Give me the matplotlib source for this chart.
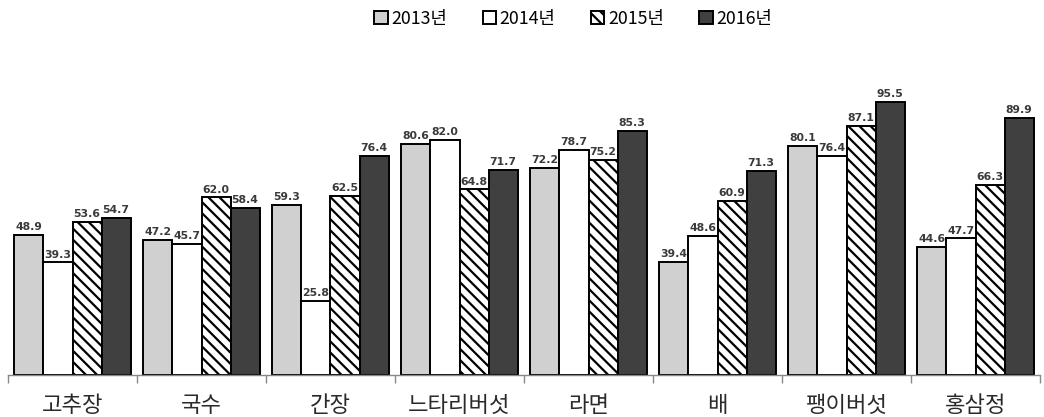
import matplotlib
matplotlib.use("Agg")
import matplotlib.pyplot as plt
import numpy as np

plt.rcParams['font.family'] = ['Noto Sans CJK KR', 'DejaVu Sans']
plt.rcParams['hatch.linewidth'] = 1.6

categories = ['고추장', '국수', '간장', '느타리버섯', '라면', '배', '팽이버섯', '홍삼정']
series_names = ['2013년', '2014년', '2015년', '2016년']
v2013 = [48.9, 47.2, 59.3, 80.6, 72.2, 39.4, 80.1, 44.6]
v2014 = [39.3, 45.7, 25.8, 82.0, 78.7, 48.6, 76.4, 47.7]
v2015 = [53.6, 62.0, 62.5, 64.8, 75.2, 60.9, 87.1, 66.3]
v2016 = [54.7, 58.4, 76.4, 71.7, 85.3, 71.3, 95.5, 89.9]
series = [v2013, v2014, v2015, v2016]

faces = ['#d0d0d0', '#ffffff', '#ffffff', '#404040']
hatches = [None, None, '\\\\\\', None]

fig = plt.figure(figsize=(10.44, 4.17), dpi=100)
ax = fig.add_axes([8/1044, 1 - 375/417, 1032/1044, (375 - 60)/417])

x = np.arange(len(categories))
w = 0.225
handles = []
for k, (vals, fc, h, name) in enumerate(zip(series, faces, hatches, series_names)):
    bars = ax.bar(x + (k - 1.5) * w, vals, width=w, color=fc, edgecolor='black',
                  linewidth=1.4, hatch=h, label=name)
    handles.append(bars)
    for xi, v in zip(x + (k - 1.5) * w, vals):
        ax.text(xi, v + 1.0, f'{v:.1f}', ha='center', va='bottom', fontsize=7.8,
                fontweight='bold', color='#3a3a3a', family=['DejaVu Sans'])

ax.set_xlim(-0.5, len(categories) - 0.5)
ax.set_ylim(0, 110)
for s in ['top', 'right', 'left']:
    ax.spines[s].set_visible(False)
ax.spines['bottom'].set_color('#888888')
ax.spines['bottom'].set_linewidth(1.0)
ax.set_yticks([])
ax.set_xticks(x)
ax.set_xticklabels(categories, fontsize=16, color='#2a2a2a')
ax.tick_params(axis='x', which='major', length=0, pad=14)
ax.set_xticks(np.arange(-0.5, len(categories), 1.0), minor=True)
ax.tick_params(axis='x', which='minor', length=6, color='#888888', width=1.0)

fig.legend(handles=handles, labels=series_names, loc='upper center',
           bbox_to_anchor=(0.549, 1.015), ncol=4, frameon=False, fontsize=12.8,
           handlelength=0.75, handleheight=0.75, handletextpad=0.2, columnspacing=2.0)

fig.savefig('out.png', dpi=100)
